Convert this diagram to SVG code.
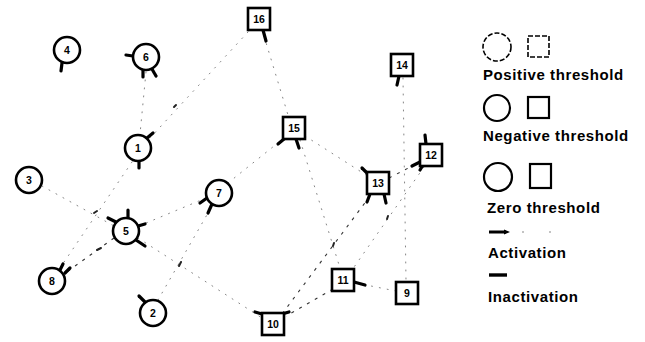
<svg xmlns="http://www.w3.org/2000/svg" width="645" height="342" viewBox="0 0 645 342">
<style>
.c{fill:#fff;stroke:#000;stroke-width:2.6}
.s{fill:#fff;stroke:#000;stroke-width:2.6}
.t{font-family:"Liberation Sans",Arial,sans-serif;font-weight:bold;font-size:10.5px;text-anchor:middle;fill:#000}
.e{fill:none;stroke:#777;stroke-width:0.9;stroke-dasharray:1 7;stroke-linecap:round}
.d{fill:none;stroke:#333;stroke-width:1.1;stroke-dasharray:3 6}
.tab{stroke:#000;stroke-width:3.2;stroke-linecap:round}
.mk{stroke:#222;stroke-width:2;stroke-linecap:round}
.lg{font-family:"Liberation Sans",Arial,sans-serif;font-weight:bold;font-size:15px;letter-spacing:0.6px;fill:#000}
</style>
<rect width="645" height="342" fill="#fff"/>
<g id="connectors">
<line class="e" x1="248" y1="32" x2="150" y2="138"/>
<line class="e" x1="264" y1="36" x2="288" y2="115"/>
<line class="e" x1="132" y1="162" x2="60" y2="268"/>
<line class="e" x1="42" y1="186" x2="114" y2="226"/>
<line class="d" x1="114" y1="238" x2="64" y2="274"/>
<line class="e" x1="138" y1="238" x2="262" y2="318"/>
<line class="e" x1="158" y1="300" x2="212" y2="206"/>
<line class="e" x1="139" y1="226" x2="206" y2="198"/>
<line class="e" x1="228" y1="183" x2="284" y2="138"/>
<line class="e" x1="300" y1="140" x2="340" y2="268"/>
<line class="e" x1="305" y1="136" x2="366" y2="175"/>
<line class="d" x1="389" y1="178" x2="420" y2="162"/>
<line class="e" x1="424" y1="167" x2="352" y2="270"/>
<line class="d" x1="370" y1="196" x2="282" y2="314"/>
<line class="d" x1="333" y1="289" x2="286" y2="316"/>
<line class="e" x1="396" y1="291" x2="356" y2="283"/>
<line class="e" x1="403" y1="78" x2="406" y2="281"/>
<line class="e" x1="146" y1="72" x2="140" y2="134"/>
<line class="mk" x1="174" y1="107" x2="176" y2="105"/>
<line class="mk" x1="94" y1="213" x2="97" y2="211"/>
<line class="mk" x1="97" y1="250" x2="101" y2="248"/>
<line class="mk" x1="179" y1="266" x2="181" y2="262"/>
<line class="mk" x1="387" y1="219" x2="388" y2="216"/>
<line class="mk" x1="333" y1="246" x2="334" y2="243"/>
</g>
<g id="n4"><line class="tab" x1="62" y1="63" x2="61" y2="71"/><circle class="c" cx="67" cy="50" r="13"/><text class="t" x="67" y="54">4</text></g>
<g id="n6"><line class="tab" x1="133" y1="56" x2="126" y2="55"/><line class="tab" x1="143" y1="69" x2="143" y2="77"/><line class="tab" x1="152" y1="69" x2="156" y2="76"/><circle class="c" cx="146" cy="57" r="13"/><text class="t" x="146" y="61">6</text></g>
<g id="n16"><line class="tab" x1="263" y1="30" x2="266" y2="41"/><rect class="s" x="248" y="8" width="22" height="22"/><text class="t" x="259" y="23">16</text></g>
<g id="n14"><line class="tab" x1="399" y1="76" x2="397" y2="85"/><rect class="s" x="391" y="54" width="22" height="22"/><text class="t" x="402" y="69">14</text></g>
<g id="n1"><line class="tab" x1="147" y1="138" x2="153" y2="133"/><line class="tab" x1="139" y1="160" x2="139" y2="168"/><circle class="c" cx="138" cy="148" r="13"/><text class="t" x="138" y="152">1</text></g>
<g id="n15"><line class="tab" x1="284" y1="139" x2="278" y2="144"/><line class="tab" x1="296" y1="139" x2="299" y2="148"/><rect class="s" x="283" y="117" width="22" height="22"/><text class="t" x="294" y="132">15</text></g>
<g id="n12"><line class="tab" x1="426" y1="144" x2="425" y2="135"/><line class="tab" x1="420" y1="162" x2="412" y2="166"/><line class="tab" x1="423" y1="165" x2="420" y2="170"/><rect class="s" x="420" y="144" width="22" height="22"/><text class="t" x="431" y="159">12</text></g>
<g id="n13"><line class="tab" x1="367" y1="173" x2="362" y2="168"/><line class="tab" x1="370" y1="194" x2="367" y2="202"/><line class="tab" x1="384" y1="194" x2="386" y2="203"/><rect class="s" x="367" y="172" width="22" height="22"/><text class="t" x="378" y="187">13</text></g>
<g id="n3"><circle class="c" cx="29" cy="180" r="13"/><text class="t" x="29" y="184">3</text></g>
<g id="n7"><line class="tab" x1="207" y1="198" x2="200" y2="203"/><line class="tab" x1="212" y1="204" x2="208" y2="213"/><circle class="c" cx="219" cy="193" r="13"/><text class="t" x="219" y="197">7</text></g>
<g id="n5"><line class="tab" x1="128" y1="218" x2="128" y2="210"/><line class="tab" x1="116" y1="222" x2="108" y2="218"/><line class="tab" x1="138" y1="226" x2="145" y2="224"/><line class="tab" x1="136" y1="240" x2="145" y2="246"/><circle class="c" cx="126" cy="231" r="13"/><text class="t" x="126" y="235">5</text></g>
<g id="n8"><line class="tab" x1="60" y1="270" x2="63" y2="264"/><line class="tab" x1="65" y1="273" x2="70" y2="268"/><circle class="c" cx="52" cy="281" r="13"/><text class="t" x="52" y="285">8</text></g>
<g id="n2"><line class="tab" x1="145" y1="302" x2="139" y2="296"/><circle class="c" cx="153" cy="313" r="13"/><text class="t" x="153" y="317">2</text></g>
<g id="n11"><line class="tab" x1="354" y1="282" x2="365" y2="285"/><rect class="s" x="332" y="269" width="22" height="22"/><text class="t" x="343" y="284">11</text></g>
<g id="n9"><rect class="s" x="396" y="282" width="22" height="22"/><text class="t" x="407" y="297">9</text></g>
<g id="n10"><line class="tab" x1="262" y1="314" x2="255" y2="312"/><line class="tab" x1="282" y1="314" x2="289" y2="312"/><rect class="s" x="262" y="313" width="22" height="22"/><text class="t" x="273" y="328">10</text></g>
<g id="legend">
<circle cx="497" cy="47" r="14" fill="none" stroke="#000" stroke-width="1.6" stroke-dasharray="5 2"/>
<rect x="528" y="36" width="21" height="21" fill="none" stroke="#000" stroke-width="1.6" stroke-dasharray="5 2"/>
<text class="lg" x="483" y="80">Positive threshold</text>
<circle cx="497" cy="108" r="13" fill="none" stroke="#000" stroke-width="2.2"/>
<rect x="528" y="97" width="21" height="21" fill="none" stroke="#000" stroke-width="2.2"/>
<text class="lg" x="483" y="141">Negative threshold</text>
<circle cx="498" cy="177" r="14" fill="none" stroke="#000" stroke-width="2.2"/>
<rect x="530" y="164" width="21" height="24" fill="none" stroke="#000" stroke-width="2.2"/>
<text class="lg" x="487" y="213">Zero threshold</text>
<line x1="489" y1="232" x2="506" y2="232" stroke="#000" stroke-width="3"/>
<path d="M504 229.5 L510 232 L504 234.5Z" fill="#000"/>
<circle cx="523" cy="232" r="0.8" fill="#777"/>
<circle cx="550" cy="232" r="0.8" fill="#777"/>
<text class="lg" x="488" y="258">Activation</text>
<line x1="489" y1="275" x2="507" y2="275" stroke="#000" stroke-width="3.4"/>
<text class="lg" x="488" y="302">Inactivation</text>
</g>
</svg>
